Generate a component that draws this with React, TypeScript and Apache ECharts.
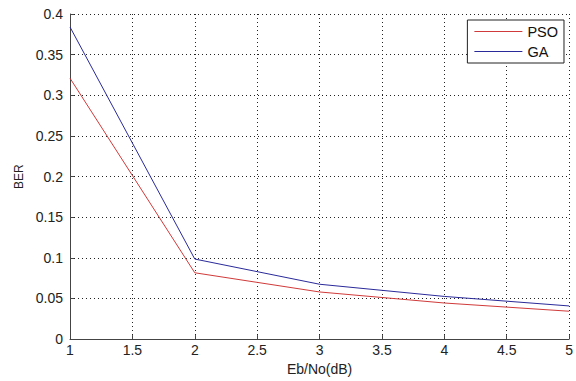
import React, { useEffect, useRef } from "react";
import * as echarts from "echarts";

const ebNo = [1, 2, 3, 4, 5];
const psoBer = [0.321, 0.0816, 0.058, 0.0444, 0.0343];
const gaBer = [0.384, 0.0985, 0.0675, 0.0525, 0.0408];
const seriesNames = ["PSO", "GA"];

export default function App() {
  const ref = useRef<HTMLDivElement>(null);
  useEffect(() => {
    const chart = echarts.init(ref.current!, undefined, { renderer: "svg" });
    const font = "Liberation Sans, Arial, sans-serif";
    chart.setOption({
      animation: false,
      backgroundColor: "#fff",
      grid: { left: 70, right: 6, top: 14, bottom: 37 },
      legend: {
        orient: "vertical",
        right: 12,
        top: 20,
        data: seriesNames,
        icon: "rect",
        backgroundColor: "#fff",
        borderColor: "#222",
        borderWidth: 1,
        borderRadius: 0,
        padding: [3, 6, 3, 7],
        itemWidth: 48,
        itemHeight: 1,
        itemGap: 3,
        textStyle: { fontFamily: font, fontSize: 14.5, color: "#111", lineHeight: 17 },
      },
      xAxis: {
        type: "value",
        min: 1,
        max: 5,
        interval: 0.5,
        name: "Eb/No(dB)",
        nameLocation: "middle",
        nameGap: 21,
        nameTextStyle: { fontFamily: font, fontSize: 14, color: "#222" },
        axisLine: { lineStyle: { color: "#444", width: 1 } },
        axisTick: { inside: true, length: 4, lineStyle: { color: "#444" } },
        axisLabel: { fontFamily: font, fontSize: 14, color: "#222", margin: 4 },
        splitLine: { show: true, lineStyle: { color: "#222", type: [1, 3], width: 1 } },
      },
      yAxis: {
        type: "value",
        min: 0,
        max: 0.4,
        interval: 0.05,
        name: "BER",
        nameLocation: "middle",
        nameGap: 44,
        nameTextStyle: { fontFamily: font, fontSize: 12, color: "#222" },
        axisLine: { show: true, lineStyle: { color: "#444", width: 1 } },
        axisTick: { show: true, inside: true, length: 4, lineStyle: { color: "#444" } },
        axisLabel: {
          fontFamily: font,
          fontSize: 14,
          color: "#222",
          margin: 7,
          formatter: (v: number) => String(parseFloat(v.toFixed(2))),
        },
        splitLine: { show: true, lineStyle: { color: "#222", type: [1, 3], width: 1 } },
      },
      series: [
        {
          name: seriesNames[0],
          type: "line",
          symbol: "none",
          data: ebNo.map((x, i) => [x, psoBer[i]]),
          lineStyle: { color: "#d03a3a", width: 1 },
          itemStyle: { color: "#d03a3a" },
        },
        {
          name: seriesNames[1],
          type: "line",
          symbol: "none",
          data: ebNo.map((x, i) => [x, gaBer[i]]),
          lineStyle: { color: "#2a2a9a", width: 1 },
          itemStyle: { color: "#2a2a9a" },
        },
      ],
    });
    return () => chart.dispose();
  }, []);
  return <div ref={ref} style={{ width: 576, height: 381, position: "fixed", left: 0, top: 0 }} />;
}
